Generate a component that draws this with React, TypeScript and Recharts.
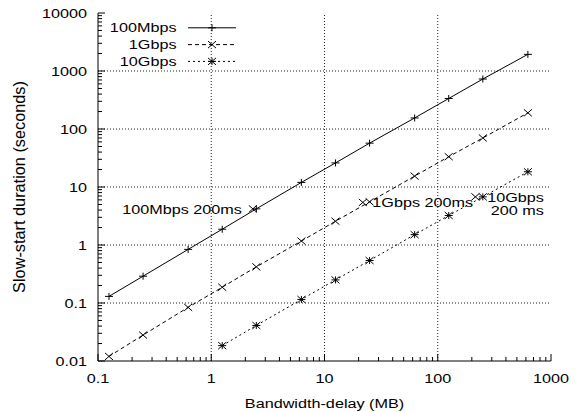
import type { FC, ReactNode } from "react";
import {
  ComposedChart,
  Line,
  XAxis,
  YAxis,
  ReferenceLine,
  ReferenceDot,
  Legend,
} from "recharts";

// bandwidth-delay product (MB) on x, slow-start duration (s) on y
const bdp = [0.125, 0.25, 0.625, 1.25, 2.5, 6.25, 12.5, 25, 62.5, 125, 250, 625];
const bdp10G = [1.25, 2.5, 6.25, 12.5, 25, 62.5, 125, 250, 625];
const slow100M = [0.13, 0.29, 0.84, 1.87, 4.2, 12, 26, 57, 155, 336, 727, 1937];
const slow1G = [0.012, 0.028, 0.084, 0.187, 0.42, 1.17, 2.57, 5.55, 15.4, 33.3, 70, 190];
const slow10G = [0.0184, 0.041, 0.115, 0.25, 0.54, 1.51, 3.23, 6.76, 18.3];

const xTicks = [0.1, 1, 10, 100, 1000];
const yTicks = [0.01, 0.1, 1, 10, 100, 1000, 10000];
const xGrid = [1, 10, 100];
const yGrid = [0.1, 1, 10, 100, 1000];

// the "200ms" annotations
const noteX = [2.33, 21.8, 215];
const noteY = [4.2, 5.42, 6.76];
const noteText = [["100Mbps 200ms"], ["1Gbps 200ms"], ["10Gbps", "200 ms"]];

const FONT = "'Liberation Sans', Arial, Helvetica, sans-serif";
const FS = 13.5;
const SX = 1.2; // horizontal text in the source is wide and short

const minorSteps = [2, 3, 4, 5, 6, 7, 8, 9];
const withMinor = (majors: number[]) =>
  majors.flatMap((m, i) =>
    i < majors.length - 1 ? [m, ...minorSteps.map((s) => m * s)] : [m]
  );
const xAll = withMinor(xTicks);
const yAll = withMinor(yTicks);
const xMajor = new Set(xTicks);
const yMajor = new Set(yTicks);

const Txt: FC<{ x: number; y: number; anchor?: string; children: ReactNode }> = ({
  x,
  y,
  anchor = "start",
  children,
}) => (
  <text
    transform={`translate(${x},${y}) scale(${SX},1)`}
    textAnchor={anchor}
    fontFamily={FONT}
    fontSize={FS}
    fill="#000"
  >
    {children}
  </text>
);

const Marker: FC<{ kind: string; cx: number; cy: number }> = ({ kind, cx, cy }) => {
  const sx = 4;
  const sy = 3.5;
  const plus = `M${cx - sx},${cy}H${cx + sx}M${cx},${cy - sy}V${cy + sy}`;
  const cross = `M${cx - sx},${cy - sy}L${cx + sx},${cy + sy}M${cx - sx},${cy + sy}L${cx + sx},${cy - sy}`;
  const d = kind === "plus" ? plus : kind === "cross" ? cross : plus + cross;
  return <path d={d} stroke="#000" strokeWidth={1} fill="none" />;
};

const series = [
  { name: "100Mbps", xs: bdp, ys: slow100M, dash: undefined, marker: "plus" },
  { name: "1Gbps", xs: bdp, ys: slow1G, dash: "4 3", marker: "cross" },
  { name: "10Gbps", xs: bdp10G, ys: slow10G, dash: "2 3", marker: "star" },
];

const tickLen = (major: boolean) => (major ? 7 : 4);

const BottomTick = (p: any) => {
  const major = xMajor.has(p.payload.value);
  return (
    <g>
      <line x1={p.x} x2={p.x} y1={p.y} y2={p.y - tickLen(major)} stroke="#000" />
      {major && (
        <Txt x={p.x} y={p.y + 22} anchor="middle">
          {String(p.payload.value)}
        </Txt>
      )}
    </g>
  );
};

const TopTick = (p: any) => {
  const major = xMajor.has(p.payload.value);
  return <line x1={p.x} x2={p.x} y1={p.y} y2={p.y + tickLen(major)} stroke="#000" />;
};

const LeftTick = (p: any) => {
  const major = yMajor.has(p.payload.value);
  return (
    <g>
      <line x1={p.x} x2={p.x + tickLen(major)} y1={p.y} y2={p.y} stroke="#000" />
      {major && (
        <Txt x={p.x - 11} y={p.y + 5} anchor="end">
          {String(p.payload.value)}
        </Txt>
      )}
    </g>
  );
};

const RightTick = (p: any) => {
  const major = yMajor.has(p.payload.value);
  return <line x1={p.x} x2={p.x - tickLen(major)} y1={p.y} y2={p.y} stroke="#000" />;
};

const renderLegend = () => (
  <svg width={250} height={75}>
    {series.map((s, i) => {
      const base = 32.3 + i * 16.8;
      const mid = base - 4.5;
      return (
        <g key={s.name}>
          <Txt x={176.5} y={base} anchor="end">
            {s.name}
          </Txt>
          <line x1={188} x2={236} y1={mid} y2={mid} stroke="#000" strokeDasharray={s.dash} />
          <Marker kind={s.marker} cx={212} cy={mid} />
        </g>
      );
    })}
  </svg>
);

const App: FC = () => {
  return (
    <div style={{ position: "absolute", left: 0, top: 0, background: "#fff" }}>
      <ComposedChart width={582} height={412} margin={{ top: 13, right: 31, bottom: 0, left: 0 }}>
        <XAxis
          type="number"
          dataKey="x"
          scale="log"
          domain={[0.1, 1000]}
          allowDataOverflow
          ticks={xAll}
          interval={0}
          tick={BottomTick}
          tickLine={false}
          tickSize={0}
          tickMargin={0}
          height={51}
          axisLine={{ stroke: "#000" }}
          label={(props: any) => {
            const vb = props.viewBox;
            return (
              <Txt x={vb.x + vb.width / 2} y={vb.y + 47} anchor="middle">
                Bandwidth-delay (MB)
              </Txt>
            );
          }}
        />
        <XAxis
          xAxisId="t"
          orientation="top"
          type="number"
          scale="log"
          domain={[0.1, 1000]}
          allowDataOverflow
          ticks={xAll}
          interval={0}
          tick={TopTick}
          tickLine={false}
          tickSize={0}
          tickMargin={0}
          height={0}
          axisLine={{ stroke: "#000" }}
        />
        <YAxis
          type="number"
          scale="log"
          domain={[0.01, 10000]}
          allowDataOverflow
          ticks={yAll}
          interval={0}
          tick={LeftTick}
          tickLine={false}
          tickSize={0}
          tickMargin={0}
          width={98}
          axisLine={{ stroke: "#000" }}
          label={(props: any) => {
            const vb = props.viewBox;
            return (
              <text
                transform={`translate(25,${vb.y + vb.height / 2}) rotate(-90)`}
                textAnchor="middle"
                fontFamily={FONT}
                fontSize={16.3}
                fill="#000"
              >
                Slow-start duration (seconds)
              </text>
            );
          }}
        />
        <YAxis
          yAxisId="r"
          orientation="right"
          type="number"
          scale="log"
          domain={[0.01, 10000]}
          allowDataOverflow
          ticks={yAll}
          interval={0}
          tick={RightTick}
          tickLine={false}
          tickSize={0}
          tickMargin={0}
          width={0}
          axisLine={{ stroke: "#000" }}
        />
        {xGrid.map((v) => (
          <ReferenceLine key={`gx${v}`} x={v} stroke="#222" strokeDasharray="1 2" />
        ))}
        {yGrid.map((v) => (
          <ReferenceLine key={`gy${v}`} y={v} stroke="#222" strokeDasharray="1 2" />
        ))}
        <Legend
          layout="horizontal"
          verticalAlign="middle"
          align="center"
          content={renderLegend}
          wrapperStyle={{ top: 0, left: 0, width: 250, height: 75 }}
        />
        {series.map((s) => (
          <Line
            key={s.name}
            name={s.name}
            data={s.xs.map((x, i) => ({ x, y: s.ys[i] }))}
            dataKey="y"
            type="linear"
            stroke="#000"
            strokeWidth={1}
            strokeDasharray={s.dash}
            isAnimationActive={false}
            dot={(p: any) => <Marker key={`${s.name}${p.index}`} kind={s.marker} cx={p.cx} cy={p.cy} />}
            activeDot={false}
          />
        ))}
        {noteX.map((x, i) => (
          <ReferenceDot
            key={`note${i}`}
            x={x}
            y={noteY[i]}
            r={0}
            shape={(p: any) => {
              const lines = noteText[i];
              const tx = i === 0 ? p.cx - 11 : i === 1 ? p.cx + 9.5 : p.cx + 68.5;
              return (
                <g>
                  <Marker kind="cross" cx={p.cx} cy={p.cy} />
                  {lines.map((t, j) => (
                    <Txt key={t} x={tx} y={p.cy + 5 + j * 13} anchor={i === 1 ? "start" : "end"}>
                      {t}
                    </Txt>
                  ))}
                </g>
              );
            }}
          />
        ))}
      </ComposedChart>
    </div>
  );
};

export default App;
